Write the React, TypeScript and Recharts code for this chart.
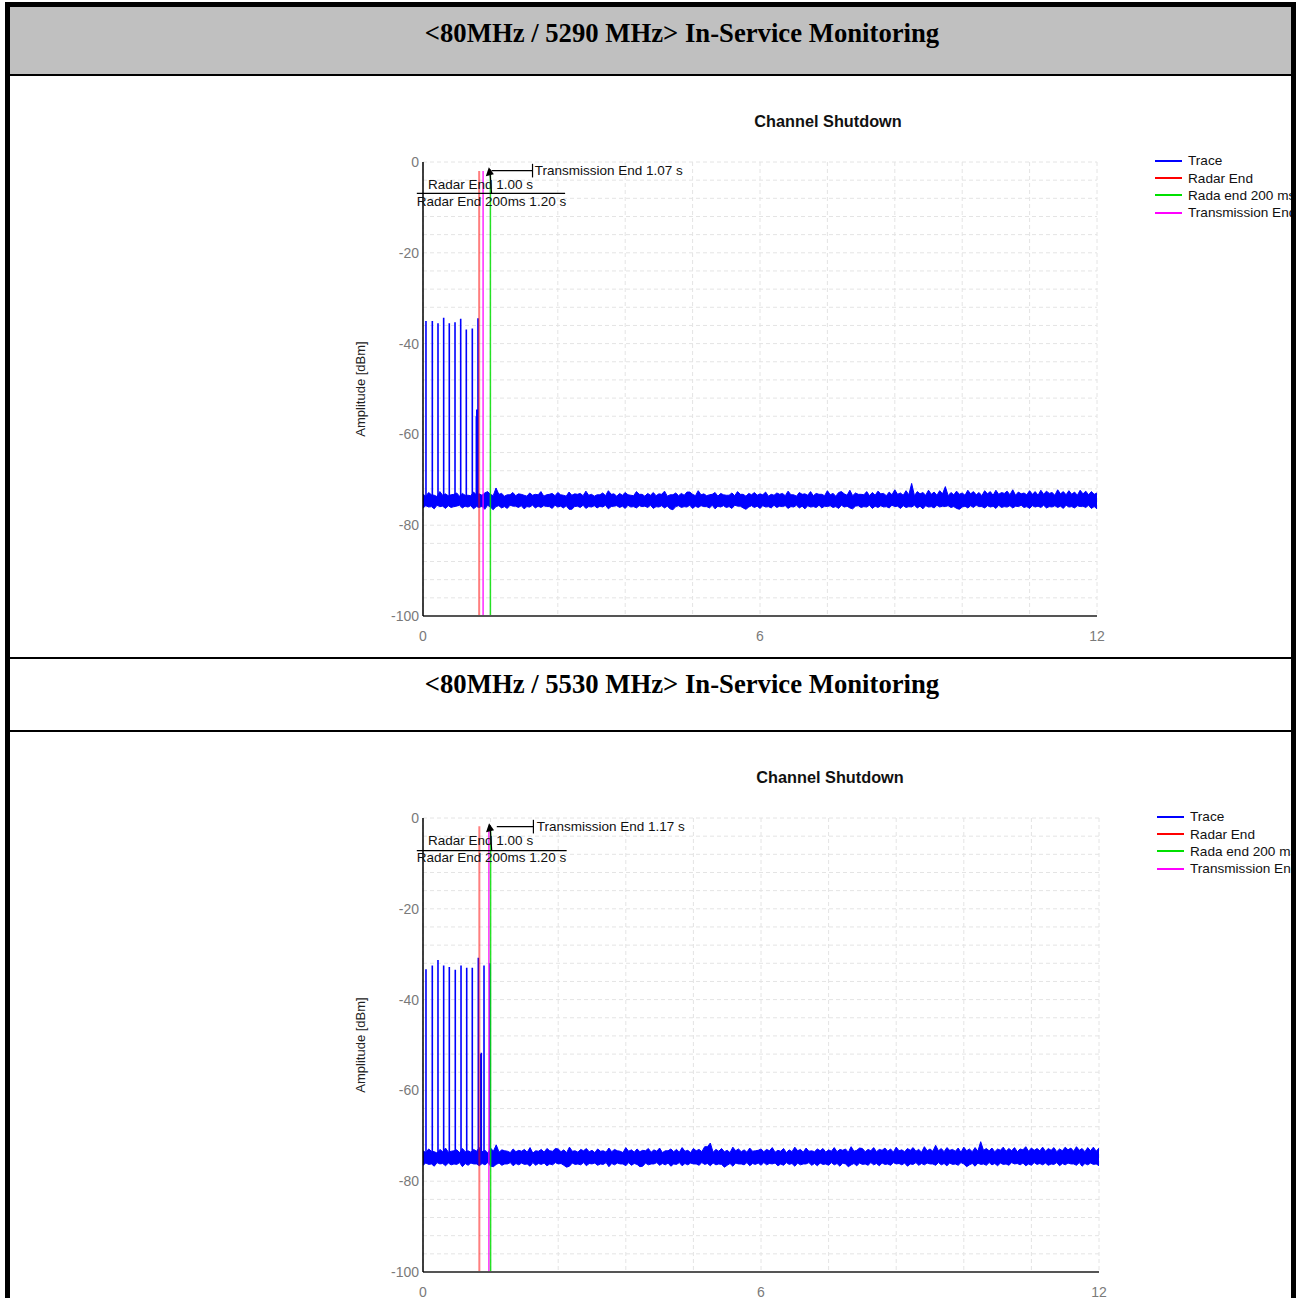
import React from "react";
import {
  Area,
  CartesianGrid,
  ComposedChart,
  Label,
  Line,
  ReferenceDot,
  ReferenceLine,
  XAxis,
  YAxis,
} from "recharts";

const SANS = '"Liberation Sans", Arial, sans-serif';
const SERIF = '"Liberation Serif", "Times New Roman", serif';

// axes
const xTicks = [0, 1.2, 2.4, 3.6, 4.8, 6, 7.2, 8.4, 9.6, 10.8, 12];
const xLabelled = [0, 6, 12];
const yTicks = [
  -100, -96, -92, -88, -84, -80, -76, -72, -68, -64, -60, -56, -52, -48, -44,
  -40, -36, -32, -28, -24, -20, -16, -12, -8, -4, 0,
];

// trace envelope read every 0.1 s (0..12) plus the half-steps in between (0.05..11.95)
const traceTimes = Array.from({ length: 121 }, (_, i) => i / 10);
const midTimes = Array.from({ length: 120 }, (_, i) => i / 10 + 0.05);

const legendNames = ["Trace", "Radar End", "Rada end 200 ms", "Transmission End"];
const legendColors = ["#0000ff", "#ff0000", "#00e000", "#ff00ff"];

const radarEnd = 1.0;
const radarEnd200 = 1.2;

// ---- chart 1 (5290 MHz)
const hi1 = [
  -73.2, -72.8, -73.4, -72.6, -73.1, -73.3, -72.9, -73.0, -73.4, -72.7, -73.1,
  -72.9, -73.2, -71.8, -73.0, -73.3, -72.8, -73.1, -73.4, -72.9, -73.2,
  -72.6, -73.3, -73.0, -72.8, -73.4, -72.7, -73.1, -73.0, -72.5, -73.2,
  -73.3, -72.9, -72.4, -73.1, -73.0, -72.8, -73.4, -72.6, -73.2, -73.0,
  -72.8, -73.1, -72.5, -73.3, -72.9, -73.0, -72.7, -73.2, -72.4, -73.1,
  -73.3, -72.8, -73.0, -73.4, -72.9, -72.6, -73.2, -73.0, -72.8, -73.1,
  -72.7, -73.2, -72.9, -73.0, -72.5, -73.3, -72.8, -73.1, -72.6, -73.0,
  -73.2, -72.4, -73.0, -72.8, -73.1, -72.3, -72.9, -73.2, -72.6, -72.8,
  -72.5, -73.0, -72.7, -72.2, -72.9, -72.4, -70.8, -72.6, -72.8, -72.3,
  -72.7, -72.4, -71.5, -72.8, -72.5, -72.9, -72.3, -72.6, -72.8, -72.4,
  -72.6, -72.3, -72.8, -72.5, -72.2, -72.7, -72.9, -72.4, -72.6, -72.3,
  -72.5, -72.8, -72.2, -72.6, -72.4, -72.7, -72.3, -72.5, -72.6, -72.9,
];
const lo1 = [
  -76.2, -76.0, -76.4, -75.9, -76.3, -76.1, -75.8, -76.2, -76.0, -76.4, -76.1,
  -76.5, -76.0, -75.9, -76.2, -76.3, -75.8, -76.1, -76.4, -76.0, -76.2,
  -76.1, -75.9, -76.3, -76.0, -76.2, -76.5, -75.9, -76.1, -76.3, -76.0,
  -76.2, -76.0, -76.4, -75.8, -76.1, -76.3, -76.0, -76.2, -75.9, -76.1,
  -76.3, -76.0, -76.2, -76.4, -75.9, -76.1, -76.0, -76.3, -76.1, -75.9,
  -76.2, -76.4, -76.0, -76.1, -76.3, -75.8, -76.2, -76.0, -76.1, -76.3,
  -76.0, -76.2, -76.1, -75.9, -76.3, -76.0, -76.2, -76.4, -76.0, -76.1,
  -76.2, -75.9, -76.1, -76.3, -76.0, -76.2, -75.8, -76.1, -76.0, -76.3,
  -76.1, -76.0, -76.2, -75.9, -76.3, -76.1, -76.0, -76.2, -76.4, -76.0,
  -76.2, -76.0, -75.9, -76.1, -76.3, -76.0, -76.2, -76.1, -75.9, -76.2,
  -76.0, -76.3, -76.1, -76.0, -76.2, -75.9, -76.1, -76.3, -76.0, -76.1,
  -76.2, -76.0, -76.1, -76.3, -76.0, -76.2, -75.9, -76.1, -76.3, -76.4,
];
const hiMid1 = [
  -73.6, -73.3, -73.7, -73.4, -73.5, -73.2, -73.6, -73.4, -73.5, -73.3,
  -73.4, -72.6, -73.5, -73.2, -73.6, -73.3, -73.5, -73.2, -73.6, -73.4,
  -73.3, -73.6, -73.2, -73.5, -73.3, -73.6, -73.4, -73.2, -73.5, -73.4,
  -73.6, -73.3, -73.5, -73.2, -73.6, -73.4, -73.3, -73.5, -73.2, -73.6,
  -73.4, -73.5, -73.2, -73.6, -73.3, -73.5, -73.4, -72.7, -73.5, -73.3,
  -73.5, -73.2, -73.6, -73.3, -73.4, -73.5, -73.2, -73.6, -73.3, -73.4,
  -73.3, -73.6, -73.4, -73.2, -73.5, -73.3, -73.6, -73.2, -73.4, -73.5,
  -73.2, -73.5, -73.3, -73.6, -72.6, -73.4, -73.5, -73.2, -73.3, -73.5,
  -73.4, -73.1, -73.5, -73.3, -73.2, -73.4, -73.3, -73.5, -73.1, -73.4,
  -73.2, -73.4, -73.1, -73.5, -73.3, -73.2, -73.4, -73.1, -73.3, -73.5,
  -73.1, -73.4, -73.2, -73.0, -73.3, -73.4, -73.1, -73.3, -73.2, -73.4,
  -73.2, -73.0, -73.4, -73.1, -73.3, -73.2, -73.4, -73.1, -73.3, -73.2,
];
const loMid1 = [
  -75.7, -75.9, -75.6, -75.8, -75.7, -75.9, -75.6, -75.8, -75.7, -75.9,
  -75.8, -75.6, -76.6, -75.7, -75.9, -75.6, -75.8, -75.7, -75.9, -75.6,
  -75.8, -75.7, -75.9, -75.6, -75.8, -75.7, -76.5, -75.8, -75.6, -75.9,
  -75.7, -75.8, -75.6, -75.9, -75.7, -75.8, -75.6, -75.9, -75.7, -75.8,
  -75.6, -75.9, -75.7, -75.8, -76.6, -75.7, -75.9, -75.6, -75.8, -75.7,
  -75.9, -75.6, -75.8, -75.7, -75.9, -75.6, -75.8, -76.5, -75.7, -75.8,
  -75.7, -75.9, -75.6, -75.8, -75.7, -75.9, -75.6, -75.8, -75.7, -75.9,
  -75.6, -75.8, -75.7, -75.9, -75.6, -75.8, -76.4, -75.7, -75.9, -75.6,
  -75.8, -75.7, -75.9, -75.6, -75.8, -75.7, -75.9, -75.6, -75.8, -75.7,
  -75.9, -75.6, -75.8, -75.7, -75.9, -76.5, -75.8, -75.7, -75.6, -75.9,
  -75.7, -75.8, -75.6, -75.9, -75.7, -75.8, -75.6, -75.9, -75.7, -75.8,
  -75.6, -75.9, -75.7, -75.8, -75.6, -75.9, -75.7, -75.8, -75.6, -75.9,
];
const pulseT1 = [0.053, 0.166, 0.267, 0.368, 0.468, 0.57, 0.671, 0.771, 0.878, 0.95, 0.958, 0.979];
const pulsePeak1 = [-35.0, -35.0, -35.5, -34.3, -35.5, -35.3, -34.5, -36.9, -36.7, -56.0, -54.5, -34.4];

// ---- chart 2 (5530 MHz)
const hi2 = [
  -73.3, -72.9, -73.5, -73.0, -72.7, -73.4, -73.1, -72.8, -73.3, -73.0, -72.6,
  -73.2, -72.7, -72.0, -73.1, -73.4, -72.9, -73.2, -73.0, -72.6, -73.3,
  -73.0, -72.8, -73.4, -72.9, -73.1, -72.5, -73.3, -73.0, -72.8, -73.2,
  -72.9, -73.3, -72.7, -73.0, -73.4, -72.6, -73.1, -72.9, -73.2, -72.8,
  -73.1, -72.7, -73.3, -72.9, -73.0, -72.6, -73.2, -72.8, -73.0, -72.4,
  -71.6, -73.0, -72.8, -73.2, -72.5, -72.9, -73.1, -72.7, -73.3, -72.9,
  -73.0, -72.6, -73.2, -72.8, -73.1, -72.5, -73.0, -72.7, -73.3, -72.9,
  -72.8, -73.1, -72.6, -73.0, -72.9, -72.4, -73.2, -72.8, -73.0, -72.6,
  -73.0, -72.7, -72.9, -72.5, -73.1, -72.8, -72.6, -73.0, -72.4, -72.9,
  -72.1, -72.8, -72.6, -73.0, -72.7, -72.5, -72.9, -72.6, -71.3, -72.8,
  -72.7, -72.9, -72.5, -72.8, -72.6, -72.9, -72.4, -72.7, -72.8, -72.5,
  -72.8, -72.6, -72.9, -72.5, -72.7, -72.4, -72.8, -72.6, -72.5, -72.7,
];
const lo2 = [
  -76.5, -76.3, -76.7, -76.2, -76.6, -76.4, -76.3, -76.8, -76.5, -76.2, -76.6,
  -76.4, -76.7, -76.3, -76.5, -76.2, -76.6, -76.4, -76.3, -76.7, -76.5,
  -76.3, -76.6, -76.4, -76.2, -76.5, -76.7, -76.3, -76.4, -76.6, -76.2,
  -76.5, -76.3, -76.8, -76.4, -76.2, -76.6, -76.5, -76.3, -76.7, -76.4,
  -76.2, -76.5, -76.4, -76.7, -76.3, -76.6, -76.4, -76.2, -76.5, -76.3,
  -76.6, -76.4, -76.3, -76.5, -76.7, -76.2, -76.4, -76.6, -76.3, -76.5,
  -76.4, -76.2, -76.6, -76.5, -76.3, -76.7, -76.4, -76.2, -76.5, -76.6,
  -76.3, -76.5, -76.4, -76.7, -76.2, -76.4, -76.6, -76.3, -76.5, -76.4,
  -76.6, -76.3, -76.5, -76.2, -76.4, -76.7, -76.3, -76.5, -76.4, -76.2,
  -76.5, -76.4, -76.6, -76.3, -76.5, -76.2, -76.4, -76.7, -76.3, -76.5,
  -76.4, -76.6, -76.3, -76.5, -76.2, -76.4, -76.6, -76.5, -76.3, -76.4,
  -76.5, -76.3, -76.6, -76.4, -76.2, -76.5, -76.7, -76.4, -76.3, -76.6,
];
const hiMid2 = [
  -73.7, -73.4, -73.8, -73.5, -73.6, -73.3, -73.7, -73.5, -73.6, -73.4,
  -73.5, -73.8, -73.4, -73.6, -73.3, -73.7, -73.5, -73.4, -73.6, -73.8,
  -73.4, -73.6, -73.3, -72.8, -73.5, -73.7, -73.4, -73.6, -73.3, -73.5,
  -73.7, -73.4, -73.6, -73.5, -73.3, -73.7, -73.4, -73.6, -73.5, -73.3,
  -73.6, -73.4, -73.7, -73.3, -73.5, -73.6, -73.4, -73.7, -73.3, -73.5,
  -72.4, -73.6, -73.4, -73.5, -73.7, -73.3, -73.5, -73.6, -73.4, -73.2,
  -73.5, -73.3, -73.6, -73.4, -73.7, -73.5, -73.3, -73.6, -73.4, -73.5,
  -73.3, -73.6, -73.4, -73.5, -73.2, -73.6, -73.4, -72.7, -73.5, -73.3,
  -73.5, -73.2, -73.4, -73.6, -73.3, -73.5, -73.2, -73.4, -73.6, -73.3,
  -73.4, -73.3, -73.5, -73.2, -73.4, -73.6, -73.3, -73.5, -73.4, -73.2,
  -73.3, -73.5, -73.2, -73.4, -73.3, -73.5, -73.1, -73.4, -73.2, -73.3,
  -73.4, -73.2, -73.5, -73.3, -73.1, -73.4, -73.2, -73.5, -73.3, -73.4,
];
const loMid2 = [
  -76.0, -76.2, -75.9, -76.1, -76.0, -76.2, -75.9, -76.1, -76.0, -76.2,
  -76.1, -75.9, -76.8, -76.0, -76.2, -75.9, -76.1, -76.0, -76.2, -75.9,
  -76.1, -76.0, -76.2, -75.9, -76.1, -76.9, -76.0, -76.2, -75.9, -76.1,
  -76.0, -76.2, -75.9, -76.1, -76.0, -76.2, -75.9, -76.1, -76.8, -76.0,
  -76.2, -75.9, -76.1, -76.0, -76.2, -75.9, -76.1, -76.0, -76.2, -75.9,
  -76.1, -76.0, -76.2, -76.9, -76.1, -76.0, -76.2, -75.9, -76.1, -76.0,
  -75.9, -76.1, -76.0, -76.2, -75.9, -76.1, -76.0, -76.2, -75.9, -76.1,
  -76.0, -76.2, -75.9, -76.1, -76.0, -76.8, -76.1, -76.0, -76.2, -75.9,
  -76.1, -76.0, -76.2, -75.9, -76.1, -76.0, -76.2, -75.9, -76.1, -76.0,
  -76.2, -75.9, -76.1, -76.0, -76.2, -75.9, -76.8, -76.1, -76.0, -76.2,
  -75.9, -76.1, -76.0, -76.2, -75.9, -76.1, -76.0, -76.2, -75.9, -76.1,
  -76.0, -76.2, -75.9, -76.1, -76.0, -76.2, -75.9, -76.1, -76.0, -76.2,
];
const pulseT2 = [0.053, 0.165, 0.266, 0.367, 0.467, 0.573, 0.675, 0.776, 0.875, 0.982, 1.025, 1.035, 1.083, 1.189];
const pulsePeak2 = [-33.3, -32.5, -31.3, -32.5, -32.8, -33.4, -32.5, -33.0, -33.0, -30.8, -52.0, -51.7, -32.5, -32.0];

type Spec = {
  title: string;
  hi: number[];
  lo: number[];
  hiMid: number[];
  loMid: number[];
  pulseT: number[];
  pulsePeak: number[];
  txEnd: number;
  txLabel: string;
  lineTop: [number, number, number]; // red, magenta, green
  rowTop: number;
  rowHeight: number;
  chartTop: number;
  marginRight: number;
  titleX: number;
  titleY: number;
  legendX: number;
  legendY: number;
  // callout positions in data units
  txTextT: number;
  txTickT: number;
  leaderEndT: number;
  arrowTipT: number;
  arrowTipV: number;
  radarLabelV: number;
  underlineV: number;
  underlineEndT: number;
};

const specs: Spec[] = [
  {
    title: "<80MHz / 5290 MHz> In-Service Monitoring",
    hi: hi1,
    lo: lo1,
    hiMid: hiMid1,
    loMid: loMid1,
    pulseT: pulseT1,
    pulsePeak: pulsePeak1,
    txEnd: 1.07,
    txLabel: "Transmission End 1.07 s",
    lineTop: [-2.0, -2.0, -2.4],
    rowTop: 76,
    rowHeight: 581,
    chartTop: 150,
    marginRight: 201,
    titleX: 828,
    titleY: 121,
    legendX: 1155,
    legendY: 161,
    txTextT: 1.99,
    txTickT: 1.95,
    leaderEndT: 1.22,
    arrowTipT: 1.19,
    arrowTipV: -1.6,
    radarLabelV: -4.85,
    underlineV: -6.9,
    underlineEndT: 2.53,
  },
  {
    title: "<80MHz / 5530 MHz> In-Service Monitoring",
    hi: hi2,
    lo: lo2,
    hiMid: hiMid2,
    loMid: loMid2,
    pulseT: pulseT2,
    pulsePeak: pulsePeak2,
    txEnd: 1.17,
    txLabel: "Transmission End 1.17 s",
    lineTop: [-1.8, -2.6, -2.6],
    rowTop: 732,
    rowHeight: 566,
    chartTop: 806,
    marginRight: 199,
    titleX: 830,
    titleY: 777,
    legendX: 1157,
    legendY: 817,
    txTextT: 2.02,
    txTickT: 1.96,
    leaderEndT: 1.31,
    arrowTipT: 1.19,
    arrowTipV: -1.6,
    radarLabelV: -5.0,
    underlineV: -7.2,
    underlineEndT: 2.55,
  },
];

const textAt = (text: string) => (p: any) => (
  <text
    x={p.cx}
    y={p.cy}
    fontSize={13.5}
    fill="#111"
    fontFamily={SANS}
    dominantBaseline="central"
  >
    {text}
  </text>
);

const arrowLine = (p: any) => {
  const { x1, y1, x2, y2 } = p;
  return (
    <g>
      <line x1={x1} y1={y1} x2={x2} y2={y2} stroke="#000" strokeWidth={1.2} />
      <polygon
        points={`${x2 - 1},${y2 - 2} ${x2 - 4},${y2 + 7} ${x2 + 4},${y2 + 5}`}
        fill="#000"
      />
    </g>
  );
};

function ShutdownChart({ spec }: { spec: Spec }) {
  const band: { t: number; band: number[] }[] = [];
  traceTimes.forEach((t, i) => {
    band.push({ t, band: [spec.lo[i], spec.hi[i]] });
    if (i < midTimes.length) {
      band.push({ t: midTimes[i], band: [spec.loMid[i], spec.hiMid[i]] });
    }
  });
  const pulses = spec.pulseT.flatMap((t, i) => [
    { t, v: -74.6 },
    { t, v: spec.pulsePeak[i] },
    { t, v: -74.6 },
  ]);
  const [redTop, magTop, greenTop] = spec.lineTop;

  return (
    <div
      style={{
        position: "absolute",
        left: 10,
        top: spec.rowTop,
        width: 1281,
        height: spec.rowHeight,
        overflow: "hidden",
        fontFamily: SANS,
      }}
    >
      <div
        style={{
          position: "absolute",
          left: spec.titleX - 10 - 150,
          top: spec.titleY - spec.rowTop - 10,
          width: 300,
          textAlign: "center",
          fontWeight: "bold",
          fontSize: 16.3,
          lineHeight: "20px",
          color: "#111",
        }}
      >
        Channel Shutdown
      </div>

      <div
        style={{
          position: "absolute",
          left: spec.legendX - 10,
          top: spec.legendY - spec.rowTop - 9,
          whiteSpace: "nowrap",
        }}
      >
        {legendNames.map((name, i) => (
          <div
            key={name}
            style={{ display: "flex", alignItems: "center", height: 17.4 }}
          >
            <span
              style={{
                display: "inline-block",
                width: 27,
                height: 2,
                background: legendColors[i],
                marginRight: 6,
              }}
            />
            <span style={{ fontSize: 13.6, color: "#111" }}>{name}</span>
          </div>
        ))}
      </div>

      <div style={{ position: "absolute", left: 330, top: spec.chartTop - spec.rowTop }}>
        <ComposedChart
          width={958}
          height={496}
          margin={{ top: 12, right: spec.marginRight, bottom: 0, left: 23 }}
          style={{ fontFamily: SANS }}
        >
          <CartesianGrid stroke="#e4e4e4" strokeDasharray="4 3" />
          <XAxis
            dataKey="t"
            type="number"
            domain={[0, 12]}
            ticks={xTicks}
            interval={0}
            tickFormatter={(v: number) => (xLabelled.includes(v) ? String(v) : "")}
            tickLine={false}
            tickSize={0}
            tickMargin={15}
            height={30}
            axisLine={{ stroke: "#555", strokeWidth: 2 }}
            tick={{ fill: "#7a7a7a", fontSize: 14 }}
            allowDataOverflow
          />
          <YAxis
            type="number"
            domain={[-100, 0]}
            ticks={yTicks}
            interval={0}
            tickFormatter={(v: number) => (v % 20 === 0 ? String(v) : "")}
            tickLine={false}
            tickSize={0}
            tickMargin={4}
            width={60}
            axisLine={{ stroke: "#000", strokeWidth: 1.5 }}
            tick={{ fill: "#7a7a7a", fontSize: 14 }}
            allowDataOverflow
          >
            <Label
              content={(p: any) => {
                const vb = p.viewBox;
                const x = vb.x - 3;
                const y = vb.y + vb.height / 2;
                return (
                  <text
                    x={x}
                    y={y}
                    transform={`rotate(-90 ${x} ${y})`}
                    textAnchor="middle"
                    dominantBaseline="central"
                    fontSize={13}
                    fill="#222"
                  >
                    Amplitude [dBm]
                  </text>
                );
              }}
            />
          </YAxis>

          <Area
            data={band}
            dataKey="band"
            type="linear"
            stroke="#0000ff"
            strokeWidth={1}
            fill="#0000ff"
            fillOpacity={1}
            isAnimationActive={false}
          />
          <Line
            data={pulses}
            dataKey="v"
            type="linear"
            stroke="#0000ff"
            strokeWidth={1.6}
            dot={false}
            legendType="none"
            isAnimationActive={false}
          />

          <ReferenceLine
            segment={[{ x: radarEnd, y: -100 }, { x: radarEnd, y: redTop }]}
            stroke="#ff0000"
            strokeOpacity={0.5}
            strokeWidth={2}
          />
          <ReferenceLine
            segment={[{ x: spec.txEnd, y: -100 }, { x: spec.txEnd, y: magTop }]}
            stroke="#ff00ff"
            strokeOpacity={0.85}
            strokeWidth={1.5}
          />
          <ReferenceLine
            segment={[{ x: radarEnd200, y: -100 }, { x: radarEnd200, y: greenTop }]}
            stroke="#00dd00"
            strokeOpacity={0.85}
            strokeWidth={1.5}
          />

          {/* callouts */}
          <ReferenceLine
            segment={[{ x: spec.txTickT, y: -1.9 }, { x: spec.leaderEndT, y: -1.9 }]}
            stroke="#000"
            strokeWidth={1.2}
            ifOverflow="visible"
          />
          <ReferenceLine
            segment={[{ x: spec.txTickT, y: -0.4 }, { x: spec.txTickT, y: -3.4 }]}
            stroke="#000"
            strokeWidth={1.2}
            ifOverflow="visible"
          />
          <ReferenceLine
            segment={[
              { x: 1.22, y: spec.underlineV },
              { x: spec.arrowTipT, y: spec.arrowTipV },
            ]}
            shape={arrowLine}
            ifOverflow="visible"
          />
          <ReferenceLine
            segment={[
              { x: -0.11, y: spec.underlineV },
              { x: spec.underlineEndT, y: spec.underlineV },
            ]}
            stroke="#000"
            strokeWidth={1.2}
            ifOverflow="visible"
          />
          <ReferenceDot
            x={spec.txTextT}
            y={-1.9}
            r={0}
            ifOverflow="visible"
            shape={textAt(spec.txLabel)}
          />
          <ReferenceDot
            x={0.09}
            y={spec.radarLabelV}
            r={0}
            ifOverflow="visible"
            shape={textAt("Radar End 1.00 s")}
          />
          <ReferenceDot
            x={-0.11}
            y={-8.6}
            r={0}
            ifOverflow="visible"
            shape={textAt("Radar End 200ms 1.20 s")}
          />
        </ComposedChart>
      </div>
    </div>
  );
}

function Header({ text, top }: { text: string; top: number }) {
  return (
    <div
      style={{
        position: "absolute",
        left: 682 - 400,
        top: top - 16,
        width: 800,
        textAlign: "center",
        fontFamily: SERIF,
        fontWeight: "bold",
        fontSize: 26.7,
        lineHeight: "32px",
        color: "#000",
        whiteSpace: "nowrap",
      }}
    >
      {text}
    </div>
  );
}

export default function App() {
  const black = "#000";
  return (
    <div
      style={{
        position: "absolute",
        left: 0,
        top: 0,
        width: 1298,
        height: 1298,
        overflow: "hidden",
        background: "#fff",
      }}
    >
      <div style={{ position: "absolute", left: 10, top: 7, width: 1281, height: 67, background: "#c0c0c0" }} />
      <Header text={specs[0].title} top={33} />
      <Header text={specs[1].title} top={684} />

      <ShutdownChart spec={specs[0]} />
      <ShutdownChart spec={specs[1]} />

      {/* table rules */}
      <div style={{ position: "absolute", left: 5, top: 2, width: 1291, height: 5, background: black }} />
      <div style={{ position: "absolute", left: 5, top: 2, width: 5, height: 1296, background: black }} />
      <div style={{ position: "absolute", left: 1291, top: 2, width: 5, height: 1296, background: black }} />
      <div style={{ position: "absolute", left: 10, top: 74, width: 1281, height: 2, background: black }} />
      <div style={{ position: "absolute", left: 10, top: 657, width: 1281, height: 2, background: black }} />
      <div style={{ position: "absolute", left: 10, top: 730, width: 1281, height: 2, background: black }} />
    </div>
  );
}
